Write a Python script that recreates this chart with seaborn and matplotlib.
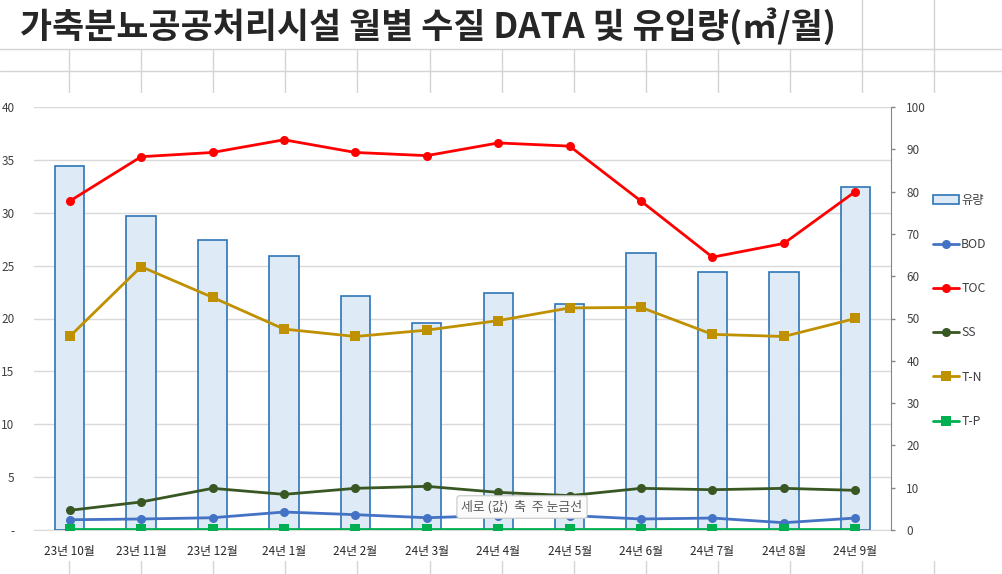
import numpy as np
import pandas as pd
import matplotlib
matplotlib.use("Agg")
import matplotlib.pyplot as plt
from matplotlib.lines import Line2D
from matplotlib.patches import Rectangle, Patch
import seaborn as sns

# ---------------- data ----------------
months = ["23년 10월", "23년 11월", "23년 12월", "24년 1월", "24년 2월", "24년 3월",
          "24년 4월", "24년 5월", "24년 6월", "24년 7월", "24년 8월", "24년 9월"]
flow = [86.0, 74.2, 68.6, 64.8, 55.3, 48.9, 56.0, 53.4, 65.6, 60.9, 60.9, 81.0]   # 유량 (right axis)
bod = [0.97, 1.04, 1.16, 1.70, 1.45, 1.16, 1.37, 1.37, 1.04, 1.13, 0.69, 1.13]
toc = [31.1, 35.3, 35.7, 36.9, 35.7, 35.4, 36.6, 36.3, 31.1, 25.8, 27.1, 32.0]
ss = [1.86, 2.65, 3.94, 3.37, 3.94, 4.13, 3.56, 3.25, 3.94, 3.81, 3.94, 3.75]
tn = [18.3, 24.9, 22.0, 19.0, 18.3, 18.9, 19.8, 21.0, 21.05, 18.5, 18.3, 20.0]
tp = [0.05, 0.05, 0.05, 0.05, 0.05, 0.05, 0.05, 0.05, 0.05, 0.05, 0.05, 0.05]
left_ticks = [0, 5, 10, 15, 20, 25, 30, 35, 40]
left_labels = ["-", "5", "10", "15", "20", "25", "30", "35", "40"]
right_ticks = [0, 10, 20, 30, 40, 50, 60, 70, 80, 90, 100]

title = "가축분뇨공공처리시설 월별 수질 DATA 및 유입량(㎥/월)"
tooltip = "세로 (값)  축  주 눈금선"

series = [
    ("BOD", bod, "#4472c4", "o"),
    ("TOC", toc, "#ff0000", "o"),
    ("SS", ss, "#385723", "o"),
    ("T-N", tn, "#bf9000", "s"),
    ("T-P", tp, "#00b050", "s"),
]

# ---------------- style ----------------
sns.set_style("white")
plt.rcParams["font.family"] = ["Noto Sans CJK KR", "DejaVu Sans"]

W, H = 1002, 574
fig = plt.figure(figsize=(W / 100, H / 100), dpi=100)
fig.patch.set_facecolor("white")

def fxp(px):
    return px / W

def fyp(py):
    return 1 - py / H

# Excel sheet grid in background
gc = "#d4d4d4"
for yy in (49, 71):
    fig.add_artist(Line2D([0, 1], [fyp(yy), fyp(yy)], color=gc, lw=1, zorder=-3))
cols = [69 + 72.1 * k for k in range(13)]
for xx in cols:
    top = 0 if xx > 850 else 49
    fig.add_artist(Line2D([fxp(xx), fxp(xx)], [fyp(top), fyp(93)], color=gc, lw=1, zorder=-3))
    fig.add_artist(Line2D([fxp(xx), fxp(xx)], [fyp(561), fyp(574)], color=gc, lw=1, zorder=-3))
# chart area (white)
fig.add_artist(Rectangle((0, fyp(561)), 1, fyp(93) - fyp(561), transform=fig.transFigure,
                         facecolor="white", edgecolor="none", zorder=-2))

# title
fig.text(fxp(20), fyp(26), title, fontsize=25.1, fontweight="bold", color="#262626",
         ha="left", va="center")

# ---------------- axes ----------------
rect = [fxp(34), fyp(530), fxp(891) - fxp(34), fyp(107) - fyp(530)]
ax_grid = fig.add_axes(rect)
ax_grid.set_facecolor("none")
ax_bar = ax_grid.twinx()
ax_line = ax_grid.twinx()
for a in (ax_grid, ax_bar, ax_line):
    a.set_facecolor("none")

# bars on right scale
sns.barplot(x=months, y=flow, ax=ax_bar, color="#deeaf6", edgecolor="#2e75b6",
            linewidth=1.2, width=0.41, saturation=1, zorder=2)

# lines on left scale
xpos = np.arange(len(months))
for name, vals, col, mk in series:
    sns.lineplot(x=xpos, y=vals, ax=ax_line, color=col, marker=mk, markersize=6.5,
                 markeredgewidth=0, linewidth=2, legend=False, zorder=3)

# limits
for a in (ax_grid, ax_bar, ax_line):
    a.set_xlim(-0.5, len(months) - 0.5)
ax_grid.set_ylim(0, 40)
ax_line.set_ylim(0, 40)
ax_bar.set_ylim(0, 100)

# left axis (grid)
ax_grid.set_yticks(left_ticks)
ax_grid.set_yticklabels(left_labels)
ax_grid.tick_params(axis="y", length=0, pad=14, labelsize=8.5, colors="#404040")
ax_grid.yaxis.grid(True, color="#d9d9d9", lw=1)
ax_grid.xaxis.grid(False)
ax_grid.set_xticks(xpos)
ax_grid.set_xticklabels(months)
ax_grid.tick_params(axis="x", length=0, pad=11, labelsize=8.5, colors="#262626")
ax_grid.set_xticks(np.arange(len(months) + 1) - 0.5, minor=True)
ax_grid.tick_params(axis="x", which="minor", length=4, color="#d9d9d9", width=1)
for s in ("top", "right", "left"):
    ax_grid.spines[s].set_visible(False)
ax_grid.spines["bottom"].set_color("#d9d9d9")
ax_grid.set_xlabel("")
ax_grid.set_ylabel("")

# right axis (bars)
ax_bar.set_yticks(right_ticks)
ax_bar.tick_params(axis="y", length=3, width=1, color="#868686", pad=8, labelsize=8.5,
                   labelcolor="#404040", right=True, left=False, labelright=True, labelleft=False)
ax_bar.set_ylabel("")
ax_bar.set_xlabel("")
ax_bar.tick_params(axis="x", bottom=False, labelbottom=False)
for s in ("top", "left", "bottom"):
    ax_bar.spines[s].set_visible(False)
ax_bar.spines["right"].set_color("#868686")
ax_bar.grid(False)

# line axes hidden
ax_line.set_yticks([])
ax_line.set_ylabel("")
ax_line.tick_params(axis="x", bottom=False, labelbottom=False)
for s in ax_line.spines.values():
    s.set_visible(False)
ax_line.grid(False)

# legend
handles = [Patch(facecolor="#deeaf6", edgecolor="#2e75b6", linewidth=1.2, label="유량")]
for name, vals, col, mk in series:
    handles.append(Line2D([], [], color=col, marker=mk, markersize=6.5, markeredgewidth=0,
                          linewidth=2, label=name))
leg = fig.legend(handles=handles, loc="upper left", bbox_to_anchor=(fxp(933), fyp(194)),
                 frameon=False, fontsize=8.8, handlelength=2.1, handletextpad=0.2,
                 labelspacing=2.55, borderaxespad=0, borderpad=0)
for t in leg.get_texts():
    t.set_color("#404040")

# tooltip
fig.text(fxp(522), fyp(507), tooltip, fontsize=9.3, color="#595959", ha="center", va="center",
         bbox=dict(boxstyle="round,pad=0.35,rounding_size=0.2", facecolor="#fbfbfb",
                   edgecolor="#c8c8c8", linewidth=0.8), zorder=10)

fig.savefig("out.png", dpi=100, facecolor="white")
